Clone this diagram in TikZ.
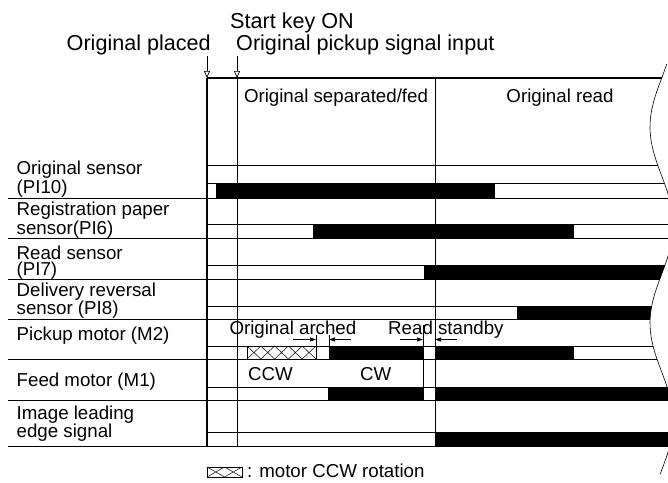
\documentclass[tikz,border=0pt]{standalone}
\usepackage{fontspec}
\setmainfont{Liberation Sans}
\usetikzlibrary{arrows.meta}

\begin{document}
\begin{tikzpicture}[x=1pt, y=-1pt,
    thinline/.style={line width=0.7pt},
    frameline/.style={line width=1.4pt},
    hatchline/.style={line width=0.5pt},
    rowlabel/.style={anchor=base west, align=left, inner sep=0pt,
      font=\fontsize{18.7}{15.2}\selectfont},
    chartext/.style={anchor=base west, inner sep=0pt, font=\fontsize{18.7}{18}\selectfont},
    toptext/.style={inner sep=0pt, font=\fontsize{21.6}{22}\selectfont},
    sigbar/.style={fill=black},
    eventarrow/.style={-{Triangle[open, length=7pt, width=6pt]}, thinline},
    dimarrow/.style={-{Triangle[length=6pt, width=4pt]}, thinline}
  ]
  \useasboundingbox (0,0) rectangle (668,482);

  % events above the chart
  \node[toptext, anchor=base west] (startkey) at (230,28) {Start key ON};
  \node[toptext, anchor=base east] (placed) at (211,50) {Original placed};
  \node[toptext, anchor=base west] (pickupin) at (236,50) {Original pickup signal input};
  \coordinate (placedtop) at (207,56);
  \coordinate (placedtip) at (207,78);
  \coordinate (pickuptop) at (237,56);
  \coordinate (pickuptip) at (237,78);
  \draw[eventarrow] (placedtop) -- (placedtip);
  \draw[eventarrow] (pickuptop) -- (pickuptip);

  % phases
  \node[chartext, anchor=base] (sepfed) at (336,102) {Original separated/fed};
  \node[chartext, anchor=base] (readph) at (560,102) {Original read};

  % row labels (base = last line)
  \node[rowlabel] (origsens) at (16.5,193.3) {Original sensor\\(PI10)};
  \node[rowlabel] (regsens) at (16.5,234.3) {Registration paper\\sensor(PI6)};
  \node[rowlabel] (readsens) at (16.5,275) {Read sensor\\(PI7)};
  \node[rowlabel] (delsens) at (16.5,314.5) {Delivery reversal\\sensor (PI8)};
  \node[rowlabel] (pickmot) at (16.5,340) {Pickup motor (M2)};
  \node[rowlabel] (feedmot) at (16.5,386) {Feed motor (M1)};
  \node[rowlabel] (imgedge) at (16.5,437.5) {Image leading\\edge signal};

  % chart body, cut at the break line
  \begin{scope}
    \clip (0,60) -- plot[domain=60:480, samples=90, variable=\t]
      ({661.7-11.7*cos(1.8367*(\t-127))}, \t) -- (0,480) -- cycle;
    \fill[sigbar] (216,183.8) rectangle (495,198.2);
    \fill[sigbar] (313,224.5) rectangle (574,238.5);
    \fill[sigbar] (424,265) rectangle (690,279);
    \fill[sigbar] (517,306) rectangle (690,319);
    \fill[sigbar] (329,346) rectangle (423,359);
    \fill[sigbar] (435,346) rectangle (574,359);
    \fill[sigbar] (328,387) rectangle (423,400);
    \fill[sigbar] (435,387) rectangle (690,400);
    \fill[sigbar] (435,432) rectangle (690,446);
    \foreach \hi/\lo in {183.8/198.2, 224.5/238.5, 265/279, 306/319, 346/359, 387/400, 432/446} {
      \draw[thinline] (207,\hi) -- (690,\hi);
      \draw[thinline] (8,\lo) -- (690,\lo);
    }
    \draw[frameline] (207,78) -- (690,78);
    \draw[thinline] (207,165) -- (690,165);
  \end{scope}

  % break line
  \draw[line width=0.6pt] plot[domain=64:474, samples=90, variable=\t]
    ({661.7-11.7*cos(1.8367*(\t-127))}, \t);

  % time marks
  \draw[frameline] (207,78) -- (207,446);
  \draw[thinline] (237,78) -- (237,446);
  \draw[thinline] (435,78) -- (435,446);
  \draw[thinline] (423,325) -- (423,400);

  % pickup motor CCW (hatched)
  \draw[thinline] (247,346) rectangle (316,359);
  \foreach \i in {0,...,4}
    \draw[hatchline] ({247+13.8*\i},346) -- ({247+13.8*(\i+1)},359)
      ({247+13.8*\i},359) -- ({247+13.8*(\i+1)},346);

  % dimension marks
  \draw[thinline] (316,335) -- (316,346);
  \draw[thinline] (329,335) -- (329,346);
  \coordinate (archa) at (293,339.5);
  \coordinate (archb) at (316,339.5);
  \coordinate (archc) at (351,339.5);
  \coordinate (archd) at (329,339.5);
  \coordinate (stbya) at (400,339.5);
  \coordinate (stbyb) at (423,339.5);
  \coordinate (stbyc) at (457,339.5);
  \coordinate (stbyd) at (435,339.5);
  \draw[dimarrow] (archa) -- (archb);
  \draw[dimarrow] (archc) -- (archd);
  \draw[dimarrow] (stbya) -- (stbyb);
  \draw[dimarrow] (stbyc) -- (stbyd);
  \node[chartext] (arched) at (229.3,334) {Original arched};
  \node[chartext] (standby) at (388,334) {Read standby};
  \node[chartext] (ccw) at (248,380) {CCW};
  \node[chartext] (cw) at (360,380) {CW};

  % legend
  \draw[thinline] (207,467) rectangle (242,477);
  \foreach \i in {0,1}
    \draw[hatchline] ({207+17.5*\i},467) -- ({207+17.5*(\i+1)},477)
      ({207+17.5*\i},477) -- ({207+17.5*(\i+1)},467);
  \node[chartext] (legend) at (247,477) {: motor CCW rotation};
\end{tikzpicture}
\end{document}
